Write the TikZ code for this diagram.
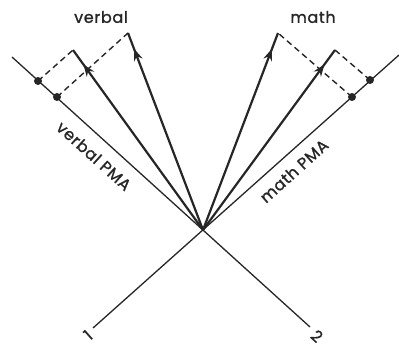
\documentclass[tikz,border=0pt]{standalone}
\usepackage{fontspec}
\setmainfont{Poppins}
\newfontfamily\labfont{Poppins}[FakeBold=1.2,LetterSpace=4]
\usetikzlibrary{arrows.meta,decorations.markings}
\begin{document}
\begin{tikzpicture}[x=1pt,y=-1pt,
  axis/.style={line width=1.3pt,black!85},
  vec/.style={line width=2.2pt,black!85,
    postaction={decorate,decoration={markings,
      mark=at position 0.92 with {\arrow{Stealth[length=12pt,width=9pt,inset=4pt]}}}}},
  proj/.style={line width=1.4pt,black!85,dash pattern=on 6pt off 4pt},
  dot/.style={circle,fill=black!85,inner sep=0pt,minimum size=8pt},
  lab/.style={font=\labfont\fontsize{16}{18}\selectfont,text=black!85,inner sep=0pt}]
\useasboundingbox (0,0) rectangle (399,347);
\coordinate (O) at (203,230);
\coordinate (A1lo) at (93,328);
\coordinate (A1hi) at (399,55);
\coordinate (A2lo) at (310,327);
\coordinate (A2hi) at (12,57);
\draw[axis] (A1lo) -- (A1hi);
\draw[axis] (A2lo) -- (A2hi);
% vectors
\coordinate (V1) at (73,50);
\coordinate (V2) at (128,33);
\coordinate (M1) at (278,33);
\coordinate (M2) at (335,50);
\draw[vec] (O) -- (V1);
\draw[vec] (O) -- (V2);
\draw[vec] (O) -- (M1);
\draw[vec] (O) -- (M2);
% projections
\node[dot] (d1) at (38,81) {};
\node[dot] (d2) at (57,97) {};
\node[dot] (d3) at (352,97) {};
\node[dot] (d4) at (370,80) {};
\draw[proj] (d1.center) -- (V1);
\draw[proj] (d2.center) -- (V2);
\draw[proj] (d3.center) -- (M1);
\draw[proj] (d4.center) -- (M2);
% labels
\node[lab] (lv) at (101,17) {verbal};
\node[lab] (lm) at (313,17) {math};
\node[lab,rotate=-42] (lvp) at (94,156) {verbal PMA};
\node[lab,rotate=42] (lmp) at (294,171) {math PMA};
\node[lab,rotate=42] (l1) at (88,335) {1};
\node[lab,rotate=-42] (l2) at (317,336) {2};
\end{tikzpicture}
\end{document}
